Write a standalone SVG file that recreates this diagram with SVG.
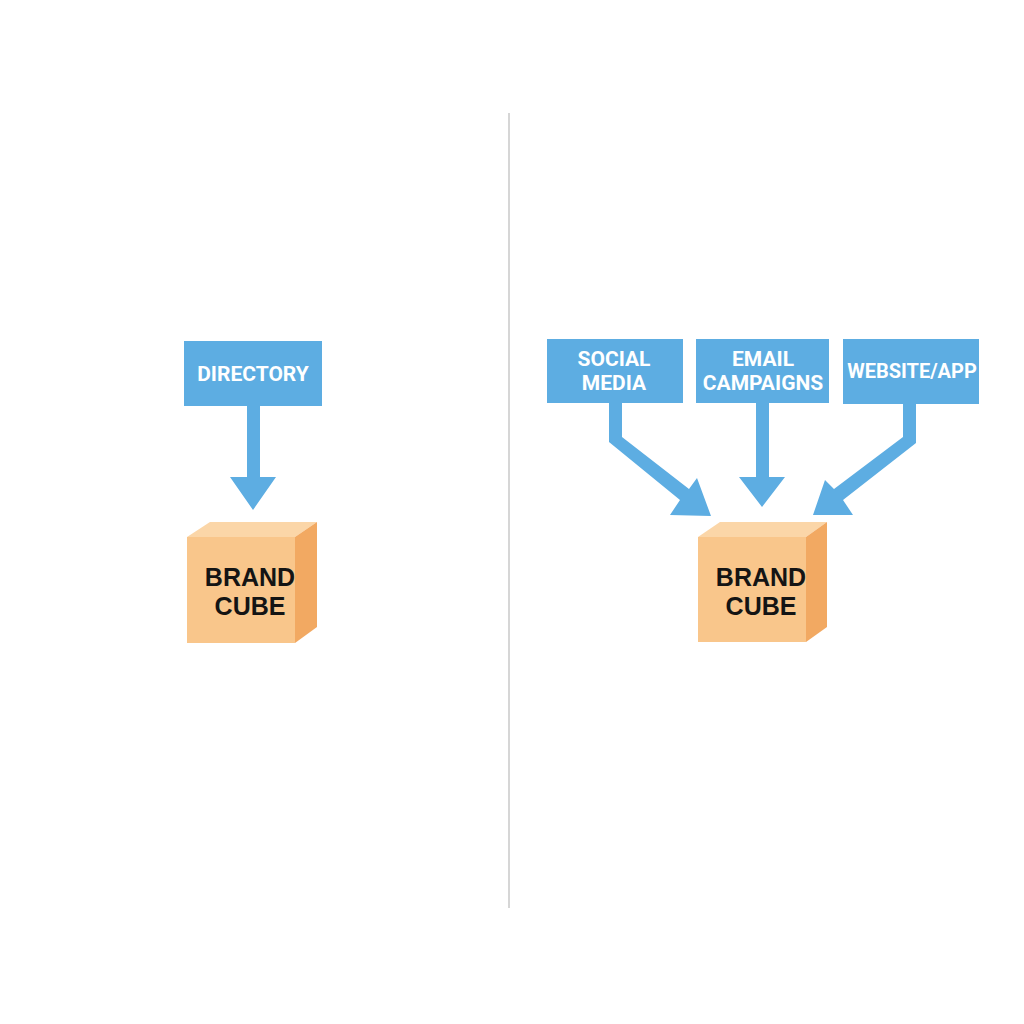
<svg xmlns="http://www.w3.org/2000/svg" width="1024" height="1024" viewBox="0 0 1024 1024">
<style>
.box{fill:#5dade2}
.lbl{font-family:Roboto,"Liberation Sans",sans-serif;font-weight:bold;font-size:21px;fill:#ffffff;text-anchor:middle}
.arr{fill:#5dade2}
.front{fill:#f9c68b}
.top{fill:#fbd6a8}
.side{fill:#f2a962}
.cube{font-family:"Liberation Sans",Arial,sans-serif;font-weight:bold;font-size:25px;fill:#141414;text-anchor:middle}
</style>
<rect width="1024" height="1024" fill="#ffffff"/>
<line x1="509" y1="113" x2="509" y2="908" stroke="#c8c8c8" stroke-width="1.5"/>
<g id="connectors">
  <polygon class="arr" points="247,406 260,406 260,477 276,477 253,510 230,477 247,477"/>
  <polygon class="arr" points="609,403 622,403 622,437 689,489 697,478 711,516 670,515 680,500 609,442"/>
  <polygon class="arr" points="756,403 769,403 769,477 785,477 762,507 739,477 756,477"/>
  <polygon class="arr" points="903,404 916,404 916,443 843,500 853,515 813,515 825,480 834,489 903,437"/>
</g>
<g id="directory">
  <rect class="box" x="184" y="341" width="138" height="65"/>
  <text class="lbl" x="253" y="381">DIRECTORY</text>
</g>
<g id="brandcube-left">
  <polygon class="top" points="187,537 210,522 317,522 295,537"/>
  <polygon class="side" points="295,537 317,522 317,627 295,643"/>
  <rect class="front" x="187" y="537" width="108" height="106"/>
  <text class="cube" x="250" y="586">BRAND</text>
  <text class="cube" x="250" y="615">CUBE</text>
</g>
<g id="social-media">
  <rect class="box" x="547" y="339" width="136" height="64"/>
  <text class="lbl" x="614" y="366">SOCIAL</text>
  <text class="lbl" x="614" y="390">MEDIA</text>
</g>
<g id="email-campaigns">
  <rect class="box" x="696" y="339" width="133" height="64"/>
  <text class="lbl" x="763" y="366">EMAIL</text>
  <text class="lbl" x="763" y="390">CAMPAIGNS</text>
</g>
<g id="website-app">
  <rect class="box" x="843" y="339" width="136" height="65"/>
  <text class="lbl" x="912" y="378" style="font-size:20px">WEBSITE/APP</text>
</g>
<g id="brandcube-right">
  <polygon class="top" points="698,537 720,522 827,522 806,537"/>
  <polygon class="side" points="806,537 827,522 827,627 806,642"/>
  <rect class="front" x="698" y="537" width="108" height="105"/>
  <text class="cube" x="761" y="586">BRAND</text>
  <text class="cube" x="761" y="615">CUBE</text>
</g>
</svg>
